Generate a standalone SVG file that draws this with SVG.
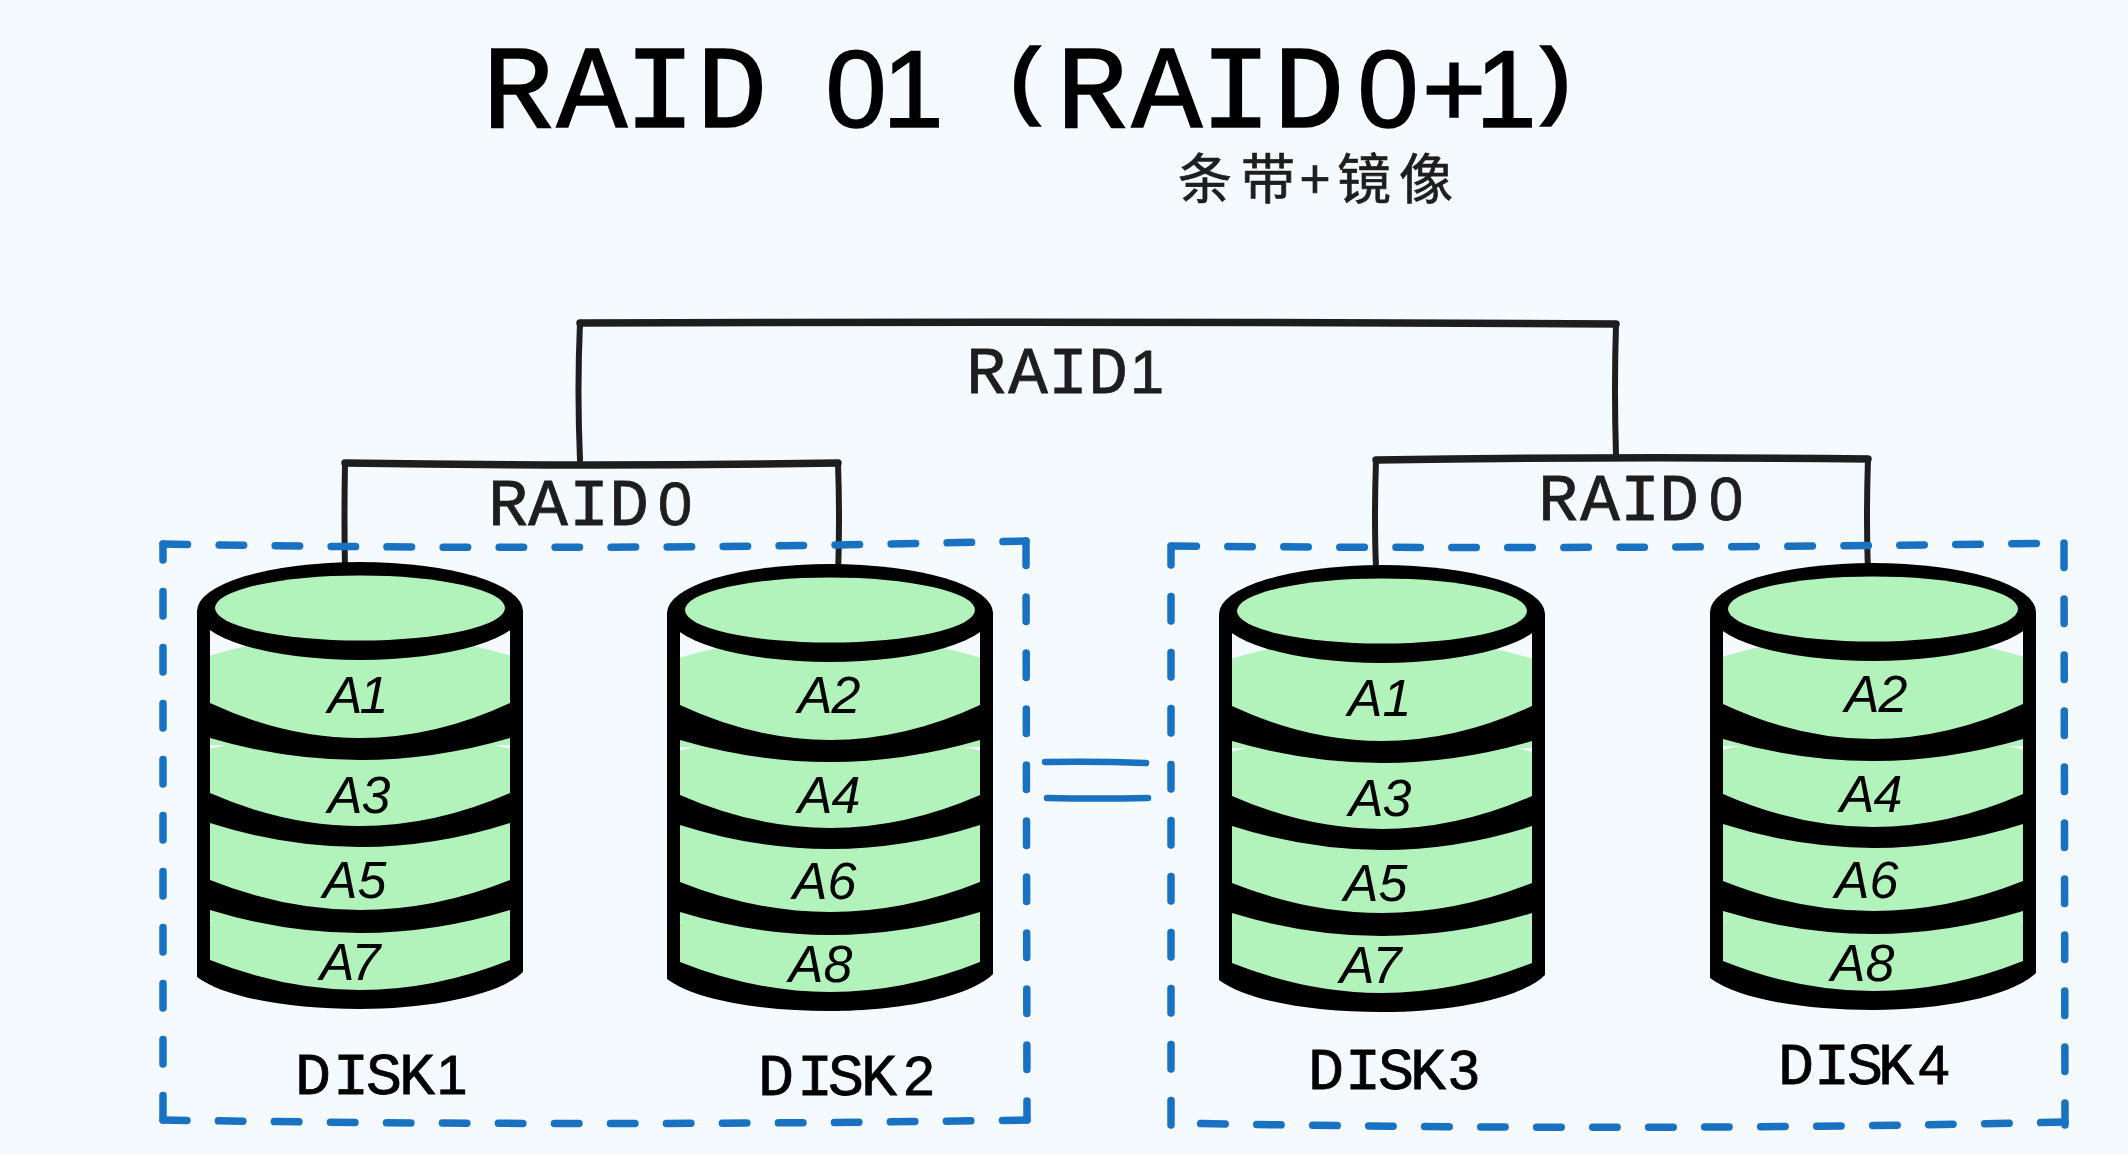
<svg xmlns="http://www.w3.org/2000/svg" xmlns:xlink="http://www.w3.org/1999/xlink" width="2128" height="1154" viewBox="0 0 2128 1154">
<style>
.hand{font-family:"Liberation Mono","DejaVu Sans Mono",monospace;text-anchor:middle;fill:#000}
.grey{fill:#1e1e1e}
.z{font-family:"Liberation Sans",Arial,sans-serif;font-size:.93em}
.p{font-size:84px;stroke-width:3.5px}
.title{font-size:118px;stroke:#000;stroke-width:1.5px}
.mid{font-size:66px;stroke:#1e1e1e;stroke-width:.8px}
.disk-label{font-size:60px;stroke:#000;stroke-width:.8px}
.seg{font-family:"Liberation Sans",Arial,sans-serif;font-style:italic;font-size:52px;text-anchor:middle;fill:#000}
.sub{font-family:"Noto Sans CJK SC","Noto Sans",sans-serif;font-size:54px;fill:#1e1e1e;stroke:#1e1e1e;stroke-width:.7px;text-anchor:middle}
.wire{fill:none;stroke:#1e1e1e;stroke-width:6;stroke-linecap:round;stroke-linejoin:round}
.bar{fill:none;stroke:#1e1e1e;stroke-width:7.5;stroke-linecap:round}
.dash{fill:none;stroke:#1971c2;stroke-width:7.5;stroke-linecap:round;stroke-dasharray:24.5 31.5}
.eq{fill:none;stroke:#1971c2;stroke-width:6.5;stroke-linecap:round}
.g{fill:#b2f2bb}
.k{fill:#000}
</style>
<defs>
<g id="can">
<path class="g" d="M205 657Q360 610 515 657V745H205Z"/>
<path class="g" d="M205 750Q360 708 515 750V835H205Z"/>
<path class="g" d="M205 835Q360 795 515 835V920H205Z"/>
<path class="g" d="M205 922Q360 885 515 922V965Q360 1015 205 965Z"/>
<ellipse class="k" cx="360" cy="611" rx="163" ry="49"/>
<ellipse class="g" cx="360" cy="608" rx="145" ry="32.5"/>
<path class="k" d="M210 703Q360 773 510 703V738Q360 782 210 738Z"/>
<path class="k" d="M210 793Q360 859 510 793V823Q360 871 210 823Z"/>
<path class="k" d="M210 880Q360 940 510 880V910Q360 956 210 910Z"/>
<path class="k" d="M197 610H210V960Q360 1020 510 960V610H523V972C500 995 430 1009 360 1009S225 998 197 977Z"/>
</g>
</defs>
<rect width="2128" height="1154" fill="#f5faff"/>

<g id="connectors">
<path class="bar" d="M580 323Q1100 321 1616 324"/>
<path class="wire" d="M580 323Q577 390 580 460"/>
<path class="wire" d="M1616 324Q1614 390 1616 455"/>
<path class="bar" d="M345 463Q590 467 838 463"/>
<path class="wire" d="M345 463Q344 520 345 570"/>
<path class="wire" d="M838 463Q840 520 838 575"/>
<path class="bar" d="M1376 460Q1620 456 1868 459"/>
<path class="wire" d="M1376 460Q1374 520 1376 567"/>
<path class="wire" d="M1868 459Q1866 520 1868 572"/>
<path class="eq" d="M1045 762Q1095 761 1146 763"/>
<path class="eq" d="M1047 798Q1097 799 1148 798"/>
</g>

<g id="raid0-box-left">
<path class="dash" d="M163 544Q600 552 1026 541"/>
<path class="dash" d="M1026 541L1027 1120"/>
<path class="dash" d="M1027 1120Q590 1127 163 1120"/>
<path class="dash" d="M163 1120L163 544"/>
</g>
<g id="raid0-box-right">
<path class="dash" d="M1172 546Q1610 550 2064 543"/>
<path class="dash" d="M2064 543L2065 1125"/>
<path class="dash" d="M2065 1122Q1640 1132 1170 1123"/>
<path class="dash" d="M1171 1125L1171 546"/>
</g>

<g id="disk1">
<use href="#can" xlink:href="#can"/>
<text class="seg" x="345 374" y="713">A1</text>
<text class="seg" x="345 376" y="813">A3</text>
<text class="seg" x="340 372" y="898">A5</text>
<text class="seg" x="337 366" y="980">A7</text>
<text class="hand disk-label" x="313 351 384 417 452" y="1094">DISK<tspan class="z">1</tspan></text>
</g>
<g id="disk2" transform="translate(470 2)">
<use href="#can" xlink:href="#can"/>
<text class="seg" x="345 376" y="711">A2</text>
<text class="seg" x="345 376" y="811">A4</text>
<text class="seg" x="340 372" y="897">A6</text>
<text class="seg" x="336 368" y="980">A8</text>
<text class="hand disk-label" x="306 345 376 409 449" y="1093">DISK<tspan class="z">2</tspan></text>
</g>
<g id="disk3" transform="translate(1022 3)">
<use href="#can" xlink:href="#can"/>
<text class="seg" x="343 375" y="713">A1</text>
<text class="seg" x="344 375" y="813">A3</text>
<text class="seg" x="339 371" y="898">A5</text>
<text class="seg" x="335 365" y="980">A7</text>
<text class="hand disk-label" x="304 341 374 406 442" y="1086">DISK<tspan class="z">3</tspan></text>
</g>
<g id="disk4" transform="translate(1513 1)">
<use href="#can" xlink:href="#can"/>
<text class="seg" x="349 380" y="711">A2</text>
<text class="seg" x="344 375" y="811">A4</text>
<text class="seg" x="339 371" y="897">A6</text>
<text class="seg" x="335 367" y="980">A8</text>
<text class="hand disk-label" x="283 319 352 383 421" y="1083">DISK<tspan class="z">4</tspan></text>
</g>

<g id="labels">
<text class="hand title" x="518 592 660 732 780 856 913 970 1027 1092 1167 1236 1309 1388 1454 1506 1554" y="127 127 127 127 127 127 127 127 108 127 127 127 127 127 127 127 108">RAID <tspan class="z">01</tspan> <tspan class="p">(</tspan>RAID<tspan class="z">0+1</tspan><tspan class="p">)</tspan></text>
<text class="sub" x="1205 1268 1315 1364 1426" y="199">条带+镜像</text>
<text class="hand grey mid" x="986 1028 1068 1108 1147" y="393">RAID<tspan class="z">1</tspan></text>
<text class="hand grey mid" x="508 548 589 629 675" y="525">RAID<tspan class="z">0</tspan></text>
<text class="hand grey mid" x="1558 1600 1640 1679 1726" y="520">RAID<tspan class="z">0</tspan></text>
</g>
</svg>
